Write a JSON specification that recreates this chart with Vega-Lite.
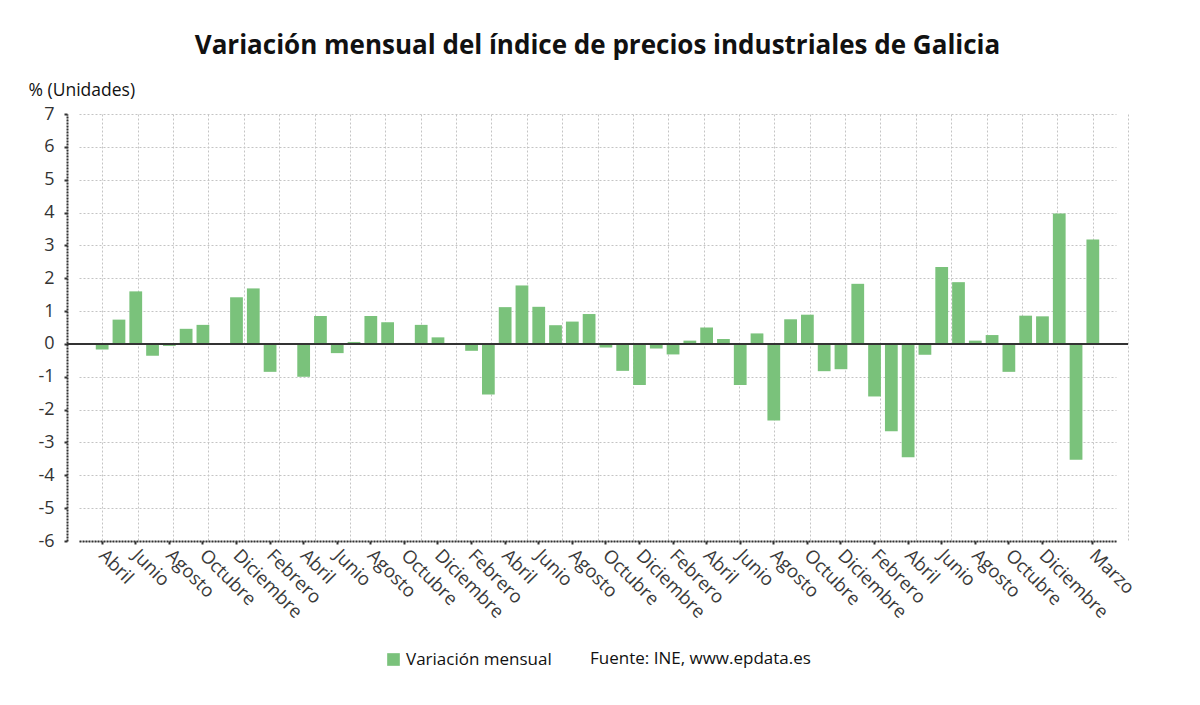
{
  "$schema": "https://vega.github.io/schema/vega-lite/v6.json",
  "width": 1061,
  "height": 427,
  "autosize": {"type": "none"},
  "padding": {"left": 67, "top": 114, "right": 72, "bottom": 164},
  "background": "white",
  "title": {
    "text": "Variación mensual del índice de precios industriales de Galicia",
    "font": "Open Sans",
    "fontSize": 26,
    "fontWeight": "bold",
    "color": "#111111",
    "anchor": "middle",
    "offset": 22
  },
  "config": {
    "view": {"stroke": null},
    "font": "Open Sans"
  },
  "data": {
    "values": [
      {"fecha": "2016-04", "valor": -0.17, "serie": "Variación mensual"},
      {"fecha": "2016-05", "valor": 0.74, "serie": "Variación mensual"},
      {"fecha": "2016-06", "valor": 1.6, "serie": "Variación mensual"},
      {"fecha": "2016-07", "valor": -0.36, "serie": "Variación mensual"},
      {"fecha": "2016-08", "valor": -0.06, "serie": "Variación mensual"},
      {"fecha": "2016-09", "valor": 0.46, "serie": "Variación mensual"},
      {"fecha": "2016-10", "valor": 0.58, "serie": "Variación mensual"},
      {"fecha": "2016-11", "valor": 0.0, "serie": "Variación mensual"},
      {"fecha": "2016-12", "valor": 1.42, "serie": "Variación mensual"},
      {"fecha": "2017-01", "valor": 1.69, "serie": "Variación mensual"},
      {"fecha": "2017-02", "valor": -0.85, "serie": "Variación mensual"},
      {"fecha": "2017-03", "valor": 0.0, "serie": "Variación mensual"},
      {"fecha": "2017-04", "valor": -1.0, "serie": "Variación mensual"},
      {"fecha": "2017-05", "valor": 0.85, "serie": "Variación mensual"},
      {"fecha": "2017-06", "valor": -0.28, "serie": "Variación mensual"},
      {"fecha": "2017-07", "valor": 0.06, "serie": "Variación mensual"},
      {"fecha": "2017-08", "valor": 0.85, "serie": "Variación mensual"},
      {"fecha": "2017-09", "valor": 0.66, "serie": "Variación mensual"},
      {"fecha": "2017-10", "valor": 0.03, "serie": "Variación mensual"},
      {"fecha": "2017-11", "valor": 0.58, "serie": "Variación mensual"},
      {"fecha": "2017-12", "valor": 0.2, "serie": "Variación mensual"},
      {"fecha": "2018-01", "valor": 0.0, "serie": "Variación mensual"},
      {"fecha": "2018-02", "valor": -0.21, "serie": "Variación mensual"},
      {"fecha": "2018-03", "valor": -1.54, "serie": "Variación mensual"},
      {"fecha": "2018-04", "valor": 1.12, "serie": "Variación mensual"},
      {"fecha": "2018-05", "valor": 1.78, "serie": "Variación mensual"},
      {"fecha": "2018-06", "valor": 1.13, "serie": "Variación mensual"},
      {"fecha": "2018-07", "valor": 0.57, "serie": "Variación mensual"},
      {"fecha": "2018-08", "valor": 0.68, "serie": "Variación mensual"},
      {"fecha": "2018-09", "valor": 0.91, "serie": "Variación mensual"},
      {"fecha": "2018-10", "valor": -0.11, "serie": "Variación mensual"},
      {"fecha": "2018-11", "valor": -0.82, "serie": "Variación mensual"},
      {"fecha": "2018-12", "valor": -1.25, "serie": "Variación mensual"},
      {"fecha": "2019-01", "valor": -0.14, "serie": "Variación mensual"},
      {"fecha": "2019-02", "valor": -0.32, "serie": "Variación mensual"},
      {"fecha": "2019-03", "valor": 0.1, "serie": "Variación mensual"},
      {"fecha": "2019-04", "valor": 0.5, "serie": "Variación mensual"},
      {"fecha": "2019-05", "valor": 0.15, "serie": "Variación mensual"},
      {"fecha": "2019-06", "valor": -1.25, "serie": "Variación mensual"},
      {"fecha": "2019-07", "valor": 0.32, "serie": "Variación mensual"},
      {"fecha": "2019-08", "valor": -2.33, "serie": "Variación mensual"},
      {"fecha": "2019-09", "valor": 0.75, "serie": "Variación mensual"},
      {"fecha": "2019-10", "valor": 0.89, "serie": "Variación mensual"},
      {"fecha": "2019-11", "valor": -0.83, "serie": "Variación mensual"},
      {"fecha": "2019-12", "valor": -0.77, "serie": "Variación mensual"},
      {"fecha": "2020-01", "valor": 1.83, "serie": "Variación mensual"},
      {"fecha": "2020-02", "valor": -1.6, "serie": "Variación mensual"},
      {"fecha": "2020-03", "valor": -2.66, "serie": "Variación mensual"},
      {"fecha": "2020-04", "valor": -3.45, "serie": "Variación mensual"},
      {"fecha": "2020-05", "valor": -0.33, "serie": "Variación mensual"},
      {"fecha": "2020-06", "valor": 2.34, "serie": "Variación mensual"},
      {"fecha": "2020-07", "valor": 1.88, "serie": "Variación mensual"},
      {"fecha": "2020-08", "valor": 0.1, "serie": "Variación mensual"},
      {"fecha": "2020-09", "valor": 0.27, "serie": "Variación mensual"},
      {"fecha": "2020-10", "valor": -0.85, "serie": "Variación mensual"},
      {"fecha": "2020-11", "valor": 0.86, "serie": "Variación mensual"},
      {"fecha": "2020-12", "valor": 0.84, "serie": "Variación mensual"},
      {"fecha": "2021-01", "valor": 3.97, "serie": "Variación mensual"},
      {"fecha": "2021-02", "valor": -3.53, "serie": "Variación mensual"},
      {"fecha": "2021-03", "valor": 3.18, "serie": "Variación mensual"}
    ]
  },
  "resolve": {"scale": {"x": "independent"}, "axis": {"x": "independent", "y": "independent"}},
  "layer": [
    {
      "mark": {"type": "rule", "strokeOpacity": 0},
      "encoding": {
        "x": {
          "datum": 0,
          "type": "quantitative",
          "scale": {"domain": [0, 30], "nice": false, "zero": false},
          "axis": {
            "orient": "top",
            "values": [0,1,2,3,4,5,6,7,8,9,10,11,12,13,14,15,16,17,18,19,20,21,22,23,24,25,26,27,28,29,30],
            "grid": true,
            "gridColor": "#c4c4c4",
            "gridDash": [2, 2],
            "gridWidth": 1,
            "labels": false,
            "ticks": false,
            "domain": false,
            "title": null
          }
        }
      }
    },
    {
      "mark": {"type": "bar", "color": "#7ac27b"},
      "encoding": {
        "x": {
          "field": "fecha",
          "type": "ordinal",
          "scale": {"paddingInner": 0.24, "paddingOuter": 1, "range": [12, 1049]},
          "axis": {
            "title": null,
            "values": ["2016-04","2016-06","2016-08","2016-10","2016-12","2017-02","2017-04","2017-06","2017-08","2017-10","2017-12","2018-02","2018-04","2018-06","2018-08","2018-10","2018-12","2019-02","2019-04","2019-06","2019-08","2019-10","2019-12","2020-02","2020-04","2020-06","2020-08","2020-10","2020-12","2021-03"],
            "labelExpr": "['Enero','Febrero','Marzo','Abril','Mayo','Junio','Julio','Agosto','Septiembre','Octubre','Noviembre','Diciembre'][toNumber(slice(datum.value,5,7))-1]",
            "labelAngle": 45,
            "labelAlign": "left",
            "labelBaseline": "middle",
            "labelFont": "Open Sans",
            "labelFontSize": 18.5,
            "labelColor": "#3a3a3a",
            "labelPadding": 8,
            "labelOverlap": false,
            "grid": false,
            "ticks": true,
            "tickSize": 3,
            "tickColor": "#333333",
            "tickWidth": 2,
            "domain": true,
            "domainColor": "#333333",
            "domainWidth": 2,
            "domainDash": [2, 1]
          }
        },
        "y": {
          "field": "valor",
          "type": "quantitative",
          "scale": {"domain": [-6, 7], "nice": false},
          "axis": {
            "title": "% (Unidades)",
            "titleAngle": 0,
            "titleAlign": "left",
            "titleBaseline": "alphabetic",
            "titleX": -39,
            "titleY": -19,
            "titleFont": "Open Sans",
            "titleFontSize": 17.5,
            "titleFontWeight": "normal",
            "titleColor": "#111111",
            "values": [-6,-5,-4,-3,-2,-1,0,1,2,3,4,5,6,7],
            "labelExpr": "toString(datum.value)",
            "labelOverlap": false,
            "labelFlush": false,
            "labelFont": "Open Sans",
            "labelFontSize": 18,
            "labelColor": "#333333",
            "labelPadding": 10,
            "grid": true,
            "gridColor": "#c4c4c4",
            "gridDash": [2, 2],
            "gridWidth": 1,
            "ticks": true,
            "tickSize": 3,
            "tickColor": "#333333",
            "tickWidth": 2,
            "domain": true,
            "domainColor": "#333333",
            "domainWidth": 2,
            "domainDash": [2, 1]
          }
        },
        "color": {
          "field": "serie",
          "type": "nominal",
          "scale": {"range": ["#7ac27b"]},
          "legend": {
            "orient": "none",
            "legendX": 318,
            "legendY": 537,
            "direction": "horizontal",
            "title": "Fuente: INE, www.epdata.es",
            "titleOrient": "right",
            "titleLimit": 0,
            "titleFont": "Open Sans",
            "titleFontSize": 17,
            "titleFontWeight": "normal",
            "titleColor": "#111111",
            "titlePadding": 38,
            "labelFont": "Open Sans",
            "labelFontSize": 17,
            "labelColor": "#111111",
            "labelLimit": 0,
            "symbolType": "square",
            "symbolSize": 160,
            "symbolStrokeWidth": 0,
            "padding": 0
          }
        }
      }
    },
    {
      "mark": {"type": "rule", "color": "#333333", "strokeWidth": 2},
      "encoding": {"y": {"datum": 0, "type": "quantitative", "axis": null}}
    }
  ]
}
